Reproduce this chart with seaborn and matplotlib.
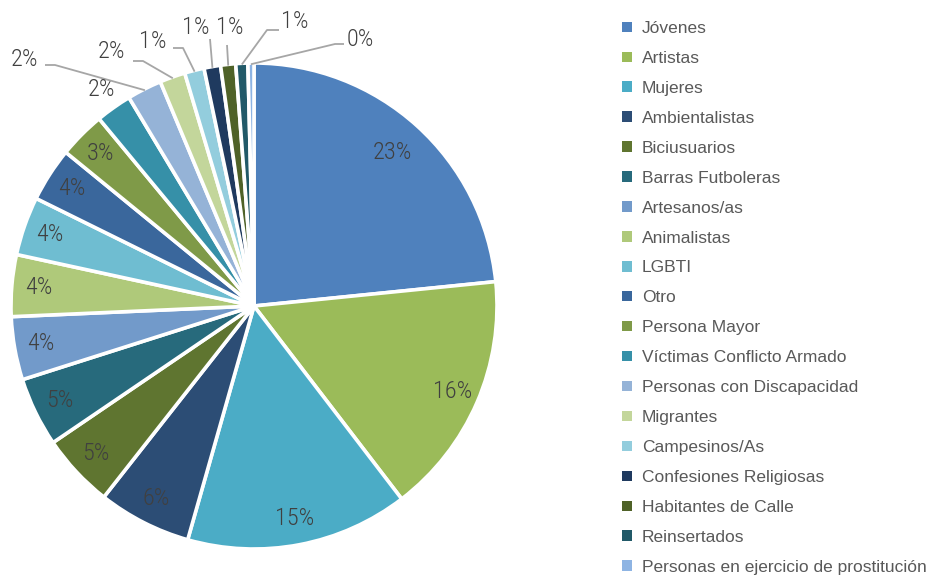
import numpy as np
import matplotlib
matplotlib.use("Agg")
import matplotlib.pyplot as plt
from matplotlib.patches import Patch
import seaborn as sns

categories = [
    "Jóvenes", "Artistas", "Mujeres", "Ambientalistas", "Biciusuarios",
    "Barras Futboleras", "Artesanos/as", "Animalistas", "LGBTI", "Otro",
    "Persona Mayor", "Víctimas Conflicto Armado", "Personas con Discapacidad",
    "Migrantes", "Campesinos/As", "Confesiones Religiosas",
    "Habitantes de Calle", "Reinsertados", "Personas en ejercicio de prostitución",
]
shares = [23.4, 16.2, 14.8, 6.2, 4.9, 4.6, 4.2, 4.1, 3.9, 3.6,
          3.1, 2.4, 2.3, 1.7, 1.3, 1.1, 1.0, 0.8, 0.4]
colors = [
    "#4F81BD", "#9BBB59", "#4BACC6", "#2C4D75", "#5F7530",
    "#276A7C", "#729ACA", "#AFC97A", "#6FBDD1", "#3A679C",
    "#7F9A48", "#3690A8", "#95B3D7", "#C3D69B", "#93CDDD",
    "#1F3A5F", "#4F6228", "#215968", "#8EB4E3",
]

sns.set_theme(style="white")
plt.rcParams["font.family"] = ["Liberation Sans", "DejaVu Sans"]
narrow = ["Liberation Sans Narrow", "Roboto Condensed", "PT Sans Narrow",
          "Archivo Narrow", "Liberation Sans", "DejaVu Sans"]

W, H = 933, 575
fig = plt.figure(figsize=(W / 100, H / 100), dpi=100)

# pie geometry in pixels
cx, cy, R = 254, 306, 243
ax = fig.add_axes([0, 0, 508 / W, 1])


def px(x, y):
    return (x - cx) / R, (cy - y) / R


wedges, _ = ax.pie(
    shares, colors=colors, startangle=90, counterclock=False, radius=1,
    wedgeprops=dict(edgecolor="white", linewidth=2.6),
)
ax.set_xlim(-254 / R, 254 / R)
ax.set_ylim(-(H - cy) / R, cy / R)
ax.set_aspect("auto")
ax.axis("off")

total = sum(shares)
label_color = "#404040"
fs = 17.5

# small slices: labels outside with leader lines (label centre, leader polyline start points)
outside = {
    12: ((25, 60), [(45, 65), (55, 65)]),
    13: ((112, 52), [(133, 61), (143, 61)]),
    14: ((153, 42), [(173, 48), (183, 48)]),
    15: ((196, 27), [(210, 39)]),
    16: ((230, 27), [(227, 45)]),
    17: ((295, 22), [(279, 30), (267, 30)]),
    18: ((360, 40), [(344, 44), (335, 44)]),
}

for i, (w, v) in enumerate(zip(wedges, shares)):
    pct = f"{round(100 * v / total):.0f}%"
    mid = np.deg2rad((w.theta1 + w.theta2) / 2)
    if i in outside:
        (tx, ty), pts = outside[i]
        ax.text(*px(tx, ty), pct, ha="center", va="center", fontsize=fs,
                color=label_color, family=narrow, fontweight="light")
        xs = [px(*p)[0] for p in pts] + [0.995 * np.cos(mid)]
        ys = [px(*p)[1] for p in pts] + [0.995 * np.sin(mid)]
        ax.plot(xs, ys, color="#A6A6A6", lw=1.3, solid_capstyle="butt")
    else:
        r = 1.09 if i == 11 else (0.85 if i == 0 else 0.89)
        ax.text(r * np.cos(mid), r * np.sin(mid), pct, ha="center", va="center",
                fontsize=fs, color=label_color, family=narrow, fontweight="light")

handles = [Patch(facecolor=c, edgecolor="none") for c in colors]
fig.legend(
    handles, categories, loc="upper left", bbox_to_anchor=(622 / W, 1 - 21 / H),
    frameon=False, fontsize=12.5, labelcolor="#595959",
    handlelength=0.55, handleheight=0.55, handletextpad=0.6,
    labelspacing=0.86, borderaxespad=0, borderpad=0,
)

fig.savefig("out.png", dpi=100, facecolor="white")
